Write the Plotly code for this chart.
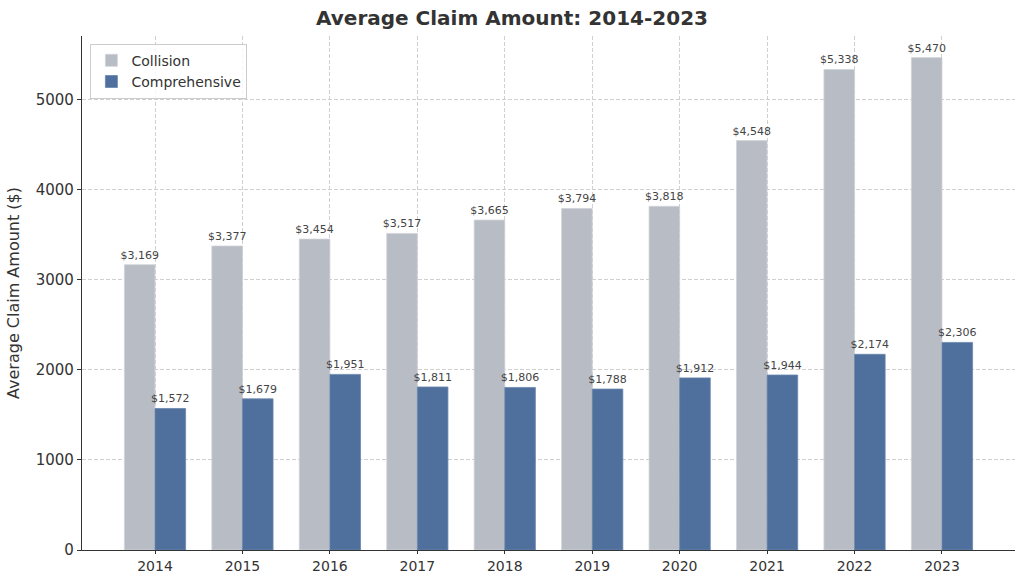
import plotly.graph_objects as go

years = ["2014", "2015", "2016", "2017", "2018", "2019", "2020", "2021", "2022", "2023"]
collision = [3169, 3377, 3454, 3517, 3665, 3794, 3818, 4548, 5338, 5470]
comprehensive = [1572, 1679, 1951, 1811, 1806, 1788, 1912, 1944, 2174, 2306]

w = 0.35
idx = list(range(len(years)))
fig = go.Figure()
fig.add_trace(go.Bar(
    x=[i - w / 2 for i in idx], y=collision, width=w, name="Collision",
    marker=dict(color="#b8bcc4", line=dict(color="#d0d3d8", width=0.8)),
    text=[f"${v:,}" for v in collision], textposition="outside", constraintext="none",
    textfont=dict(size=11, color="#444444"), cliponaxis=False,
))
fig.add_trace(go.Bar(
    x=[i + w / 2 for i in idx], y=comprehensive, width=w, name="Comprehensive",
    marker=dict(color="#4f709c", line=dict(color="#6a86ad", width=0.8)),
    text=[f"${v:,}" for v in comprehensive], textposition="outside", constraintext="none",
    textfont=dict(size=11, color="#444444"), cliponaxis=False,
))
fig.update_layout(
    width=1024, height=576,
    margin=dict(l=82, r=9, t=36, b=26),
    paper_bgcolor="white", plot_bgcolor="white",
    font=dict(family="DejaVu Sans", color="#333333"),
    title=dict(text="<b>Average Claim Amount: 2014-2023</b>", x=0.5, xanchor="center",
               y=0.968, yanchor="middle", font=dict(size=20, color="#333333")),
    barmode="overlay", showlegend=True,
    legend=dict(x=0.009, y=0.985, xanchor="left", yanchor="top",
                bordercolor="#cccccc", borderwidth=1, bgcolor="rgba(255,255,255,0.8)",
                font=dict(size=14, color="#333333"), tracegroupgap=0),
)
fig.update_xaxes(
    range=[-0.835, 9.835], tickmode="array", tickvals=idx, ticktext=years,
    showline=True, linecolor="#333333", linewidth=1.2, ticks="outside", ticklen=3,
    tickcolor="#333333", tickfont=dict(size=14, color="#333333"), automargin=False,
    showgrid=True, gridcolor="#d0d0d0", griddash="4px,2px", gridwidth=0.8, zeroline=False,
)
fig.update_yaxes(
    range=[0, 5710], tickmode="array", tickvals=[0, 1000, 2000, 3000, 4000, 5000],
    showline=True, linecolor="#333333", linewidth=1.2, ticks="outside", ticklen=4,
    tickcolor="#333333", tickfont=dict(size=15, color="#333333"), automargin=False,
    showgrid=True, gridcolor="#d0d0d0", griddash="4px,2px", gridwidth=0.8, zeroline=False,
    title=dict(text="Average Claim Amount ($)", font=dict(size=16, color="#333333"), standoff=12),
)
fig.write_html("out.html")
